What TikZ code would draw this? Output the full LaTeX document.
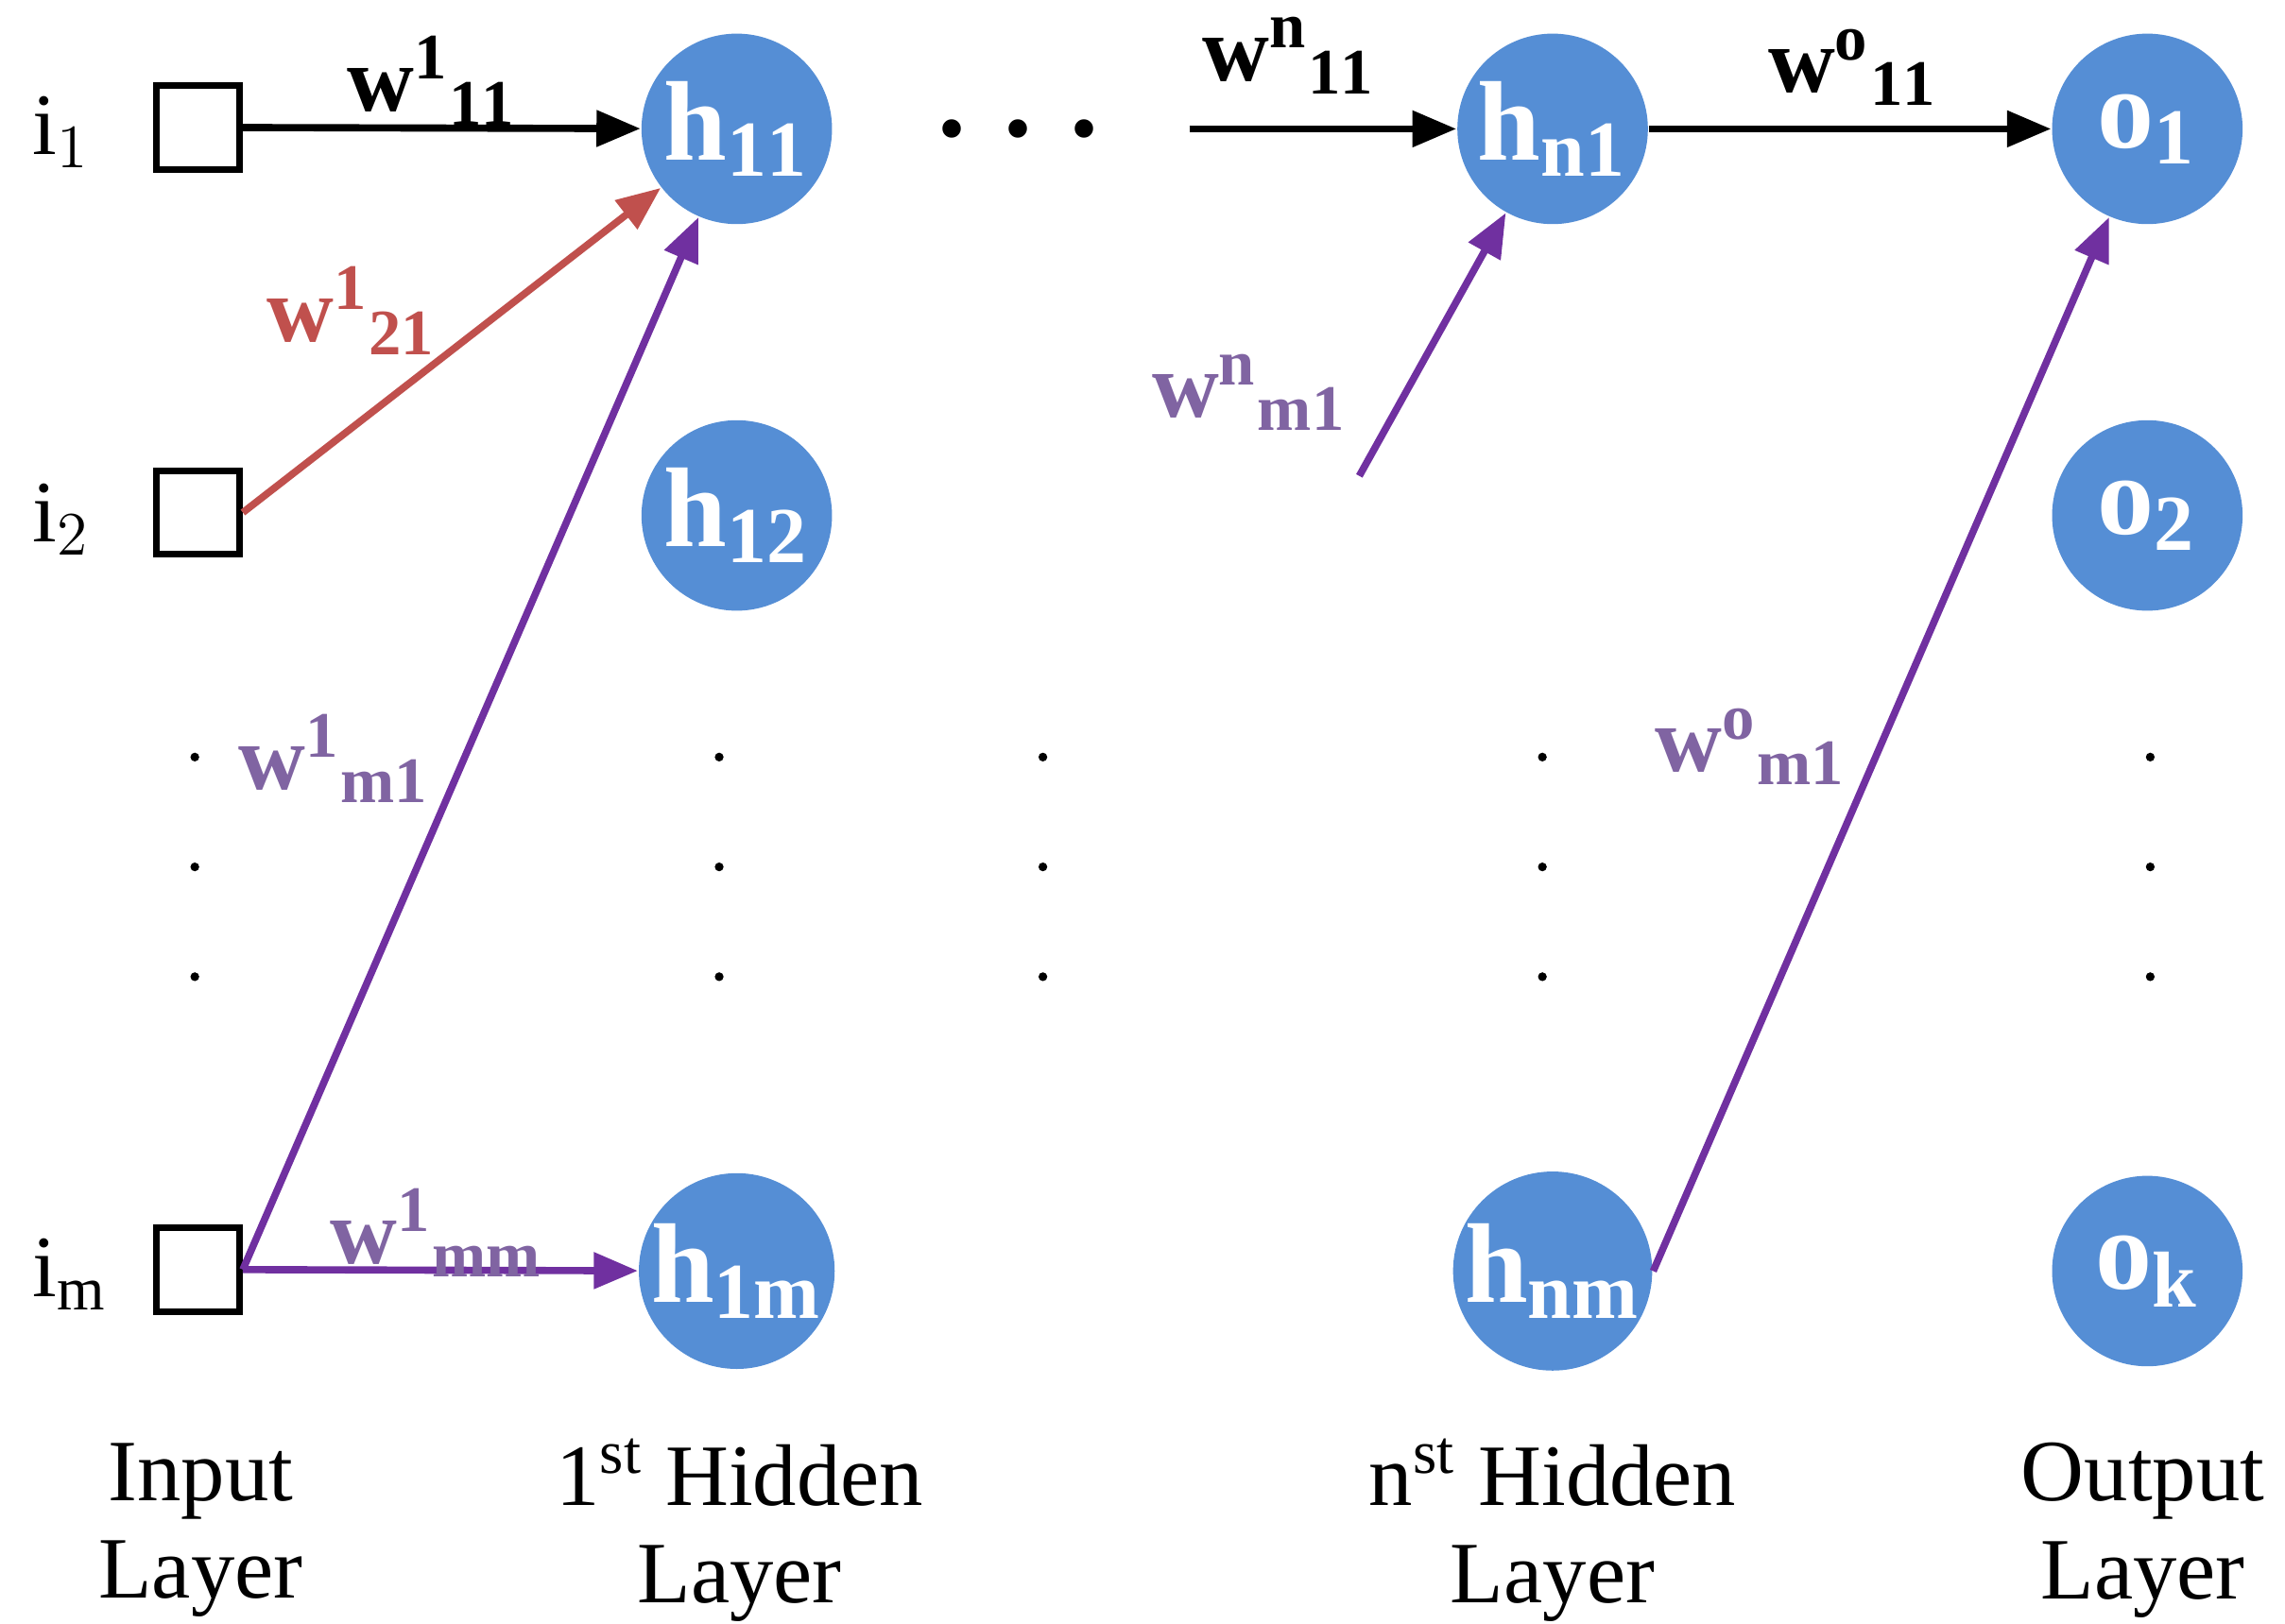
\documentclass[tikz,border=0pt]{standalone}
\usepackage{fontspec}
\setmainfont{Liberation Serif}
\usetikzlibrary{arrows.meta}
\definecolor{nodeblue}{HTML}{558ED5}
\definecolor{wred}{HTML}{C0504D}
\definecolor{wpurp}{HTML}{7030A0}
\definecolor{lpurp}{HTML}{8064A2}
\begin{document}
\begin{tikzpicture}[x=0.01cm,y=-0.01cm,
  neuron/.style={circle,fill=nodeblue,minimum size=1.3cm,inner sep=0pt,text=white,font=\fontsize{22}{24}\selectfont\bfseries},
  inp/.style={draw,line width=1.3pt,minimum size=0.57cm,inner sep=0pt},
  lab/.style={font=\fontsize{17}{20}\selectfont},
  wl/.style={font=\fontsize{18}{20}\selectfont\bfseries},
  arr/.style={line width=1.4pt,-{Triangle[length=0.3cm,width=0.24cm]}},
  vd/.style={circle,fill=black,inner sep=0pt,minimum size=0.06cm},
  bot/.style={align=center,font=\fontsize{17}{19}\selectfont}]
\useasboundingbox (0,0) rectangle (1560,1109);
\node[inp] (i1) at (135,87) {};
\node[inp] (i2) at (135,350) {};
\node[inp] (im) at (135,867) {};
\node[lab] (li1) at (42,90) {i$_1$};
\node[lab] (li2) at (42,355) {i$_2$};
\node[lab] (lim) at (48,870) {i$_{\mathrm m}$};
\node[neuron] (h11) at (503,88) {h$_{\mathbf{11}}$};
\node[neuron] (h12) at (503,352) {h$_{\mathbf{12}}$};
\node[neuron] (h1m) at (503,868) {h$_{\mathbf{1m}}$};
\node[neuron] (hn1) at (1060,88) {h$_{\mathbf{n1}}$};
\node[neuron] (hnm) at (1060,868) {h$_{\mathbf{nm}}$};
\node[neuron] (o1) at (1466,88) {o$_{\mathbf{1}}$};
\node[neuron] (o2) at (1466,352) {o$_{\mathbf{2}}$};
\node[neuron] (ok) at (1466,868) {o$_{\mathbf{k}}$};
\node[font=\fontsize{22}{24}\selectfont\bfseries] (hd) at (695,88) {. . .};
\foreach \x/\n in {133/a,491/b,712/c,1053/d,1468/e}
  \foreach \y/\m in {517/1,592/2,667/3}
    \node[vd] (v\n\m) at (\x,\y) {};
\coordinate (sn) at (812,88);
\coordinate (sm) at (928,325);
\draw[arr] (i1) -- (h11);
\draw[arr,wred] (i2.east) -- (h11);
\draw[arr,wpurp] (im.east) -- (h11);
\draw[arr,wpurp] (im.east) -- (h1m);
\draw[arr] (sn) -- (hn1);
\draw[arr,wpurp] (sm) -- (hn1);
\draw[arr] (hn1) -- (o1);
\draw[arr,wpurp] (hnm.east) -- (o1);
\node[wl] (w111) at (295,55) {w$^{\mathbf 1}$$_{\mathbf{11}}$};
\node[wl,text=wred] (w121) at (240,212) {w$^{\mathbf 1}$$_{\mathbf{21}}$};
\node[wl,text=lpurp] (w1m1) at (228,518) {w$^{\mathbf 1}$$_{\mathbf{m1}}$};
\node[wl,text=lpurp] (w1mm) at (298,842) {w$^{\mathbf 1}$$_{\mathbf{mm}}$};
\node[wl] (wn11) at (880,38) {w$^{\mathbf n}$$_{\mathbf{11}}$};
\node[wl,text=lpurp] (wnm1) at (853,268) {w$^{\mathbf n}$$_{\mathbf{m1}}$};
\node[wl] (wo11) at (1265,46) {w$^{\mathbf o}$$_{\mathbf{11}}$};
\node[wl,text=lpurp] (wom1) at (1195,510) {w$^{\mathbf o}$$_{\mathbf{m1}}$};
\node[bot] (b1) at (137,1045) {Input\\Layer};
\node[bot] (b2) at (505,1045) {1$^{\mathrm{st}}$ Hidden\\Layer};
\node[bot] (b3) at (1060,1045) {n$^{\mathrm{st}}$ Hidden\\Layer};
\node[bot] (b4) at (1463,1045) {Output\\Layer};
\end{tikzpicture}
\end{document}
